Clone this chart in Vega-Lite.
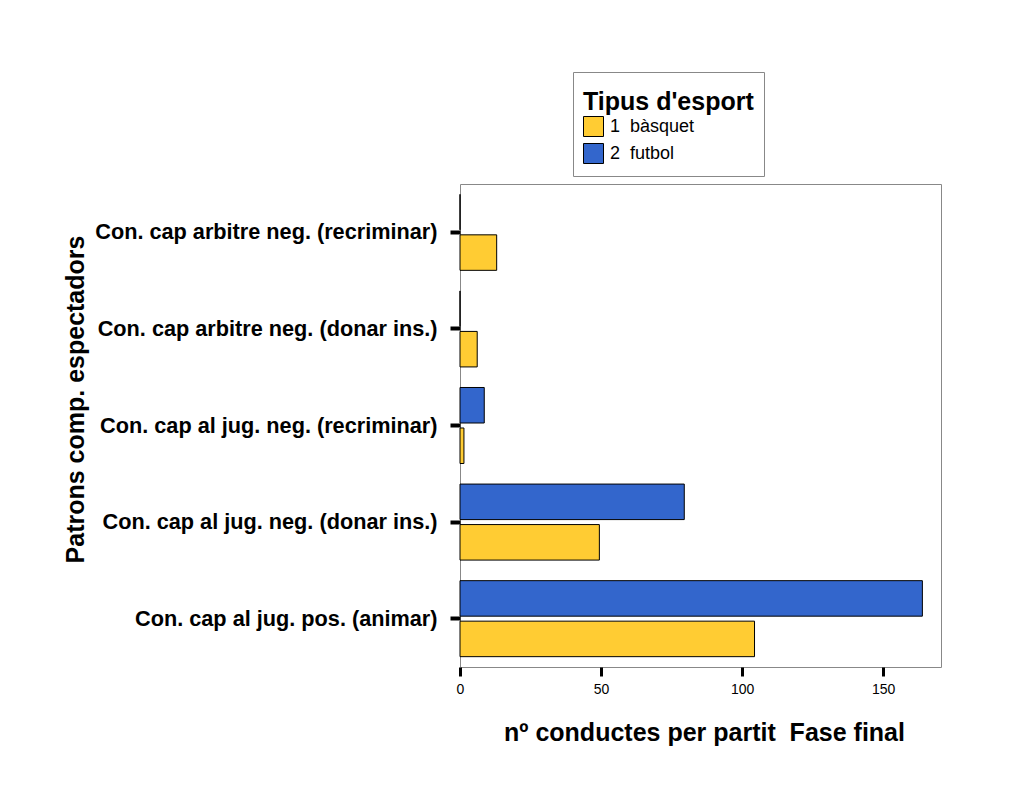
{
  "$schema": "https://vega.github.io/schema/vega-lite/v6.json",
  "width": 481,
  "height": 483,
  "autosize": {"type": "none"},
  "padding": {"left": 460, "top": 184, "right": 82, "bottom": 120},
  "background": "white",
  "data": {
    "values": [
      {"patro": "Con. cap arbitre neg. (recriminar)", "esport": "1\u00a0 bàsquet", "valor": 13.0},
      {"patro": "Con. cap arbitre neg. (recriminar)", "esport": "2\u00a0 futbol", "valor": 0},
      {"patro": "Con. cap arbitre neg. (donar ins.)", "esport": "1\u00a0 bàsquet", "valor": 6.1},
      {"patro": "Con. cap arbitre neg. (donar ins.)", "esport": "2\u00a0 futbol", "valor": 0},
      {"patro": "Con. cap al jug. neg. (recriminar)", "esport": "1\u00a0 bàsquet", "valor": 1.4},
      {"patro": "Con. cap al jug. neg. (recriminar)", "esport": "2\u00a0 futbol", "valor": 8.6},
      {"patro": "Con. cap al jug. neg. (donar ins.)", "esport": "1\u00a0 bàsquet", "valor": 49.4},
      {"patro": "Con. cap al jug. neg. (donar ins.)", "esport": "2\u00a0 futbol", "valor": 79.5},
      {"patro": "Con. cap al jug. pos. (animar)", "esport": "1\u00a0 bàsquet", "valor": 104.4},
      {"patro": "Con. cap al jug. pos. (animar)", "esport": "2\u00a0 futbol", "valor": 163.9}
    ]
  },
  "mark": {"type": "bar", "stroke": "black", "strokeWidth": 1},
  "encoding": {
    "y": {
      "field": "patro",
      "type": "nominal",
      "sort": null,
      "scale": {"paddingInner": 0.213, "paddingOuter": 0.107},
      "axis": {
        "title": "Patrons comp. espectadors",
        "titleFont": "Liberation Sans",
        "titleFontSize": 25,
        "titleFontWeight": "bold",
        "titleColor": "black",
        "titleX": -385,
        "titleY": 215,
        "titleAngle": 270,
        "titleAlign": "center",
        "titleBaseline": "middle",
        "labelFont": "Liberation Sans",
        "labelFontSize": 21.7,
        "labelFontWeight": "bold",
        "labelColor": "black",
        "labelPadding": 13,
        "labelLimit": 500,
        "tickColor": "black",
        "tickWidth": 4,
        "tickSize": 10,
        "domain": false
      }
    },
    "yOffset": {
      "field": "esport",
      "type": "nominal",
      "sort": ["2\u00a0 futbol", "1\u00a0 bàsquet"],
      "scale": {"paddingInner": 0.123}
    },
    "x": {
      "field": "valor",
      "type": "quantitative",
      "scale": {"domain": [0, 170.5], "nice": false},
      "axis": {
        "title": "nº conductes per partit \u00a0Fase final",
        "titleFont": "Liberation Sans",
        "titleFontSize": 25,
        "titleFontWeight": "bold",
        "titleColor": "black",
        "titleX": 244,
        "titleY": 65,
        "titleAlign": "center",
        "titleBaseline": "middle",
        "labelFont": "Liberation Sans",
        "labelFontSize": 14,
        "labelColor": "black",
        "labelPadding": 6,
        "labelFlush": false,
        "values": [0, 50, 100, 150],
        "tickColor": "black",
        "tickWidth": 3,
        "tickSize": 9,
        "grid": false,
        "domain": false
      }
    },
    "color": {
      "field": "esport",
      "type": "nominal",
      "scale": {"domain": ["1\u00a0 bàsquet", "2\u00a0 futbol"], "range": ["#FFCC33", "#3366CC"]},
      "legend": {
        "title": ["", "Tipus d'esport"],
        "titleLineHeight": 8,
        "orient": "none",
        "legendX": 113,
        "legendY": -112,
        "strokeColor": "#888888",
        "fillColor": "white",
        "padding": 10,
        "titleFont": "Liberation Sans",
        "titleFontSize": 25,
        "titleFontWeight": "bold",
        "titleColor": "black",
        "titlePadding": 1,
        "labelFont": "Liberation Sans",
        "labelFontSize": 18,
        "labelColor": "black",
        "symbolType": "square",
        "symbolSize": 400,
        "symbolStrokeColor": "black",
        "symbolStrokeWidth": 1,
        "symbolOpacity": 1,
        "rowPadding": 2,
        "labelOffset": 6
      }
    }
  },
  "config": {
    "view": {"stroke": "#888888", "strokeWidth": 1}
  }
}
